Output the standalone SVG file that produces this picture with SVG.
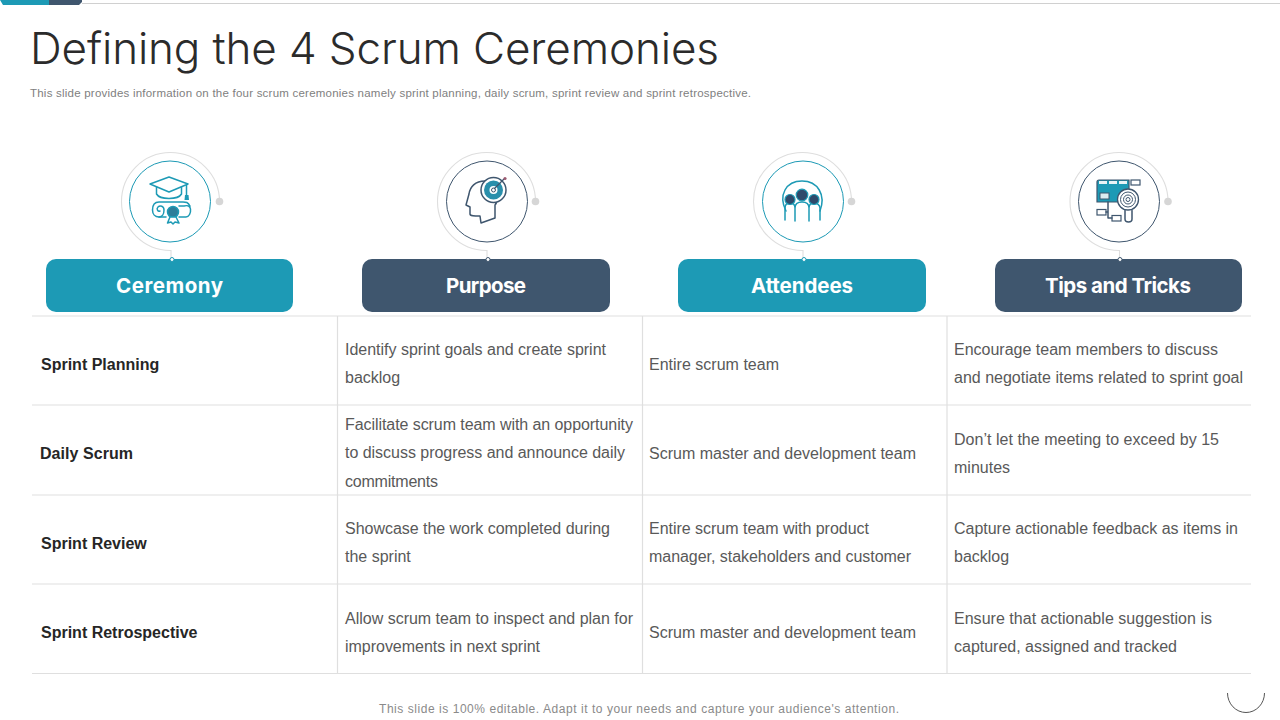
<svg xmlns="http://www.w3.org/2000/svg" xmlns:xlink="http://www.w3.org/1999/xlink" width="1280" height="720" viewBox="0 0 1280 720">
<style>
text{font-family:"Liberation Sans",Arial,sans-serif}
.title{font-family:Inter,"Open Sans",sans-serif;font-size:44px;font-weight:300;fill:#2b2b2b}
.sub{font-size:11.5px;fill:#808080}
.hd{font-family:Inter,"Noto Sans",sans-serif;font-size:20.5px;font-weight:700;fill:#fff;text-anchor:middle}
.row{font-size:16px;font-weight:700;fill:#262626}
.cell{font-size:16px;fill:#595959}
.foot{font-size:12px;fill:#8a8a8a}
.grid{stroke:#dfdfdf;stroke-width:1.2;fill:none}
.arc{fill:none;stroke:#dedede;stroke-width:1.1}
.teal{fill:none;stroke:#1d9ab5;stroke-width:1}
.navy{fill:none;stroke:#3f566e;stroke-width:1}
.tl{fill:none;stroke:#1d9ab5;stroke-width:1.5;stroke-linejoin:round;stroke-linecap:round}
.nv{fill:none;stroke:#3f566e;stroke-width:1.5;stroke-linejoin:round;stroke-linecap:round}
</style>
<defs>
<g id="ring">
<path class="arc" d="M48.500 0A49 49 0 1 0 0 49V57"/>
<circle cx="48.500" cy="0" r="3.800" fill="#d6d6d6"/>
</g>
</defs>
<g id="topbar">
<path d="M82 3.500H1280" stroke="#d0d0d0" stroke-width="1" fill="none"/>
<path d="M0 0H49V5H3Z" fill="#1d9ab5"/>
<path d="M49 0H82V2L79 5H49Z" fill="#3f566e"/>
</g>
<text class="title" x="30" y="64" textLength="689" lengthAdjust="spacing">Defining the 4 Scrum Ceremonies</text>
<text class="sub" x="30" y="97" textLength="721" lengthAdjust="spacing">This slide provides information on the four scrum ceremonies namely sprint planning, daily scrum, sprint review and sprint retrospective.</text>

<g id="connectors">
<g class="grid">
<path d="M32 316H1251M32 405H1251M32 495H1251M32 584H1251M32 673.500H1251"/>
<path d="M337.500 316V673M642.500 316V673M947 316V673"/>
</g>
<use xlink:href="#ring" href="#ring" x="171" y="201.500"/>
<use xlink:href="#ring" href="#ring" x="487" y="201.500"/>
<use xlink:href="#ring" href="#ring" x="803" y="201.500"/>
<use xlink:href="#ring" href="#ring" x="1119.500" y="201.500"/>
</g>

<g id="node-ceremony">
<rect x="46" y="259" width="247" height="53" rx="10" fill="#1d9ab5"/>
<circle cx="172" cy="259.500" r="2" fill="#fff" stroke="#1d9ab5" stroke-width="1"/>
<circle class="teal" cx="170" cy="201.500" r="40.500"/>
<path class="tl" d="M150 184L169 177L188 184L169 192Z"/>
<path class="tl" d="M156.500 187V194C160 200 178 200 181.500 194V187M186.500 185V195"/>
<path d="M185 195H188.500L189 200H184.500Z" fill="#1d9ab5"/>
<path class="tl" d="M190 206C188 202 186 202 183 202H159C154 202 152.500 206 152.500 210C152.500 214 155 217 159 217H166"/>
<path class="tl" d="M159 217C162 217 164 214 164 210C164 206 160 205 158 207C156 209 158 212 160 211"/>
<path class="tl" d="M179 217H186C189 217 191 213 190.500 209C190 206 188 205 184 206H179"/>
<circle cx="173" cy="212" r="5.500" fill="#2c7e9a" stroke="#1d9ab5" stroke-width="1.500"/>
<path d="M170 217L167.500 223L171 222L173 224L175 222L179 223L176 217Z" fill="#fff" stroke="#1d9ab5" stroke-width="1.500" stroke-linejoin="round"/>
<text class="hd" x="169.500" y="293" textLength="107">Ceremony</text>
</g>

<g id="node-purpose">
<rect x="362" y="259" width="248" height="53" rx="10" fill="#3f566e"/>
<circle cx="488" cy="259.500" r="2" fill="#fff" stroke="#3f566e" stroke-width="1"/>
<circle class="navy" cx="487" cy="201.500" r="40.500"/>
<path class="nv" d="M485 181C475 181 470 187 469 194L466 205L470 207V214C470 216 474 216 480 216L481 223L495 218V205C497 203 497 202 496 200"/>
<circle cx="493.500" cy="190" r="12.500" fill="#fff" stroke="#3f566e" stroke-width="1.500"/>
<circle cx="493.500" cy="190" r="9.500" fill="#2a8fab"/>
<circle cx="493.500" cy="190" r="4" fill="#fff"/>
<circle cx="493.500" cy="190" r="2" fill="none" stroke="#3f566e" stroke-width="1"/>
<path d="M494 189L504 179" stroke="#3f566e" stroke-width="1.200"/>
<circle cx="505" cy="178.500" r="1.600" fill="#9a5a70"/>
<text class="hd" x="486" y="293" textLength="80">Purpose</text>
</g>

<g id="node-attendees">
<rect x="678" y="259" width="248" height="53" rx="10" fill="#1d9ab5"/>
<circle cx="804" cy="259.500" r="2" fill="#fff" stroke="#1d9ab5" stroke-width="1"/>
<circle class="teal" cx="803" cy="201.500" r="40.500"/>
<path class="tl" d="M786 211C778 195 786 181 802 181C818 181 826 195 820 211" stroke-width="1.300"/>
<path class="tl" d="M785 220V208C785 204 788 203 790 203C794 203 795 206 795 208V221M795 208C795 204 798 202 802 202C806 202 809 204 809 208V221M809 208C809 205 811 203 814 203C817 203 820 205 820 208V220"/>
<circle cx="790" cy="199.500" r="5" fill="#2f4a6b" stroke="#1d9ab5" stroke-width="1.200"/>
<circle cx="802" cy="195" r="5.800" fill="#2f4a6b" stroke="#1d9ab5" stroke-width="1.200"/>
<circle cx="814" cy="199.500" r="5" fill="#2f4a6b" stroke="#1d9ab5" stroke-width="1.200"/>
<text class="hd" x="802" y="293" textLength="102">Attendees</text>
</g>

<g id="node-tips">
<rect x="995" y="259" width="247" height="53" rx="10" fill="#3f566e"/>
<circle cx="1120" cy="259.500" r="2" fill="#fff" stroke="#3f566e" stroke-width="1"/>
<circle class="navy" cx="1119" cy="201.500" r="40.500"/>
<path d="M1097 182Q1097 180 1099 180H1129V190C1122 194 1118 198 1118 202H1097Z" fill="#1d9ab5" stroke="#3f566e" stroke-width="1.200"/>
<path d="M1099 181H1107V184H1099ZM1109 181H1117V184H1109ZM1119 181H1127V184H1119Z" fill="#e8f3f6"/>
<rect x="1100" y="193" width="9" height="6" fill="#dcecf1" stroke="#3f566e" stroke-width="1"/>
<rect x="1131" y="180" width="9" height="5" fill="#fff" stroke="#3f566e" stroke-width="1.200"/>
<rect x="1097" y="209.500" width="9" height="5.500" fill="#fff" stroke="#3f566e" stroke-width="1.200"/>
<rect x="1112" y="215.500" width="9" height="5.500" fill="#fff" stroke="#3f566e" stroke-width="1.200"/>
<path class="nv" d="M1108 202V218H1112M1106 212H1108" stroke-width="1"/>
<circle cx="1128" cy="199.500" r="10.500" fill="#fff" stroke="#3f566e" stroke-width="1.300"/>
<circle cx="1128" cy="199.500" r="7.500" fill="none" stroke="#3f566e" stroke-width="1"/>
<circle cx="1128" cy="199.500" r="4.500" fill="none" stroke="#3f566e" stroke-width="1"/>
<circle cx="1128" cy="199.500" r="2" fill="none" stroke="#3f566e" stroke-width="1"/>
<path class="nv" d="M1125 210.500V219C1125 223 1132 223 1132 219V210.500" stroke-width="1.200"/>
<text class="hd" x="1118" y="293" textLength="146">Tips and Tricks</text>
</g>

<g id="table-text">
<text class="row" x="41" y="370">Sprint Planning</text>
<text class="row" x="40" y="459" textLength="93">Daily Scrum</text>
<text class="row" x="41" y="549">Sprint Review</text>
<text class="row" x="41" y="638">Sprint Retrospective</text>

<text class="cell" x="345" y="355" textLength="261">Identify sprint goals and create sprint</text>
<text class="cell" x="345" y="383">backlog</text>
<text class="cell" x="345" y="430" textLength="288">Facilitate scrum team with an opportunity</text>
<text class="cell" x="345" y="458" textLength="280">to discuss progress and announce daily</text>
<text class="cell" x="345" y="487" textLength="93">commitments</text>
<text class="cell" x="345" y="534" textLength="265">Showcase the work completed during</text>
<text class="cell" x="345" y="562">the sprint</text>
<text class="cell" x="345" y="624" textLength="288">Allow scrum team to inspect and plan for</text>
<text class="cell" x="345" y="652" textLength="195">improvements in next sprint</text>

<text class="cell" x="649" y="370" textLength="130">Entire scrum team</text>
<text class="cell" x="649" y="459" textLength="267">Scrum master and development team</text>
<text class="cell" x="649" y="534" textLength="220">Entire scrum team with product</text>
<text class="cell" x="649" y="562" textLength="262">manager, stakeholders and customer</text>
<text class="cell" x="649" y="638" textLength="267">Scrum master and development team</text>

<text class="cell" x="954" y="355" textLength="264">Encourage team members to discuss</text>
<text class="cell" x="954" y="383" textLength="289">and negotiate items related to sprint goal</text>
<text class="cell" x="954" y="445" textLength="265">Don’t let the meeting to exceed by 15</text>
<text class="cell" x="954" y="473">minutes</text>
<text class="cell" x="954" y="534" textLength="284">Capture actionable feedback as items in</text>
<text class="cell" x="954" y="562">backlog</text>
<text class="cell" x="954" y="624" textLength="258">Ensure that actionable suggestion is</text>
<text class="cell" x="954" y="652" textLength="223">captured, assigned and tracked</text>
</g>

<text class="foot" x="379" y="713" textLength="520">This slide is 100% editable. Adapt it to your needs and capture your audience's attention.</text>
<path d="M1227.500 693A18.500 19.500 0 0 0 1264.500 693" fill="none" stroke="#555" stroke-width="1"/>
</svg>
